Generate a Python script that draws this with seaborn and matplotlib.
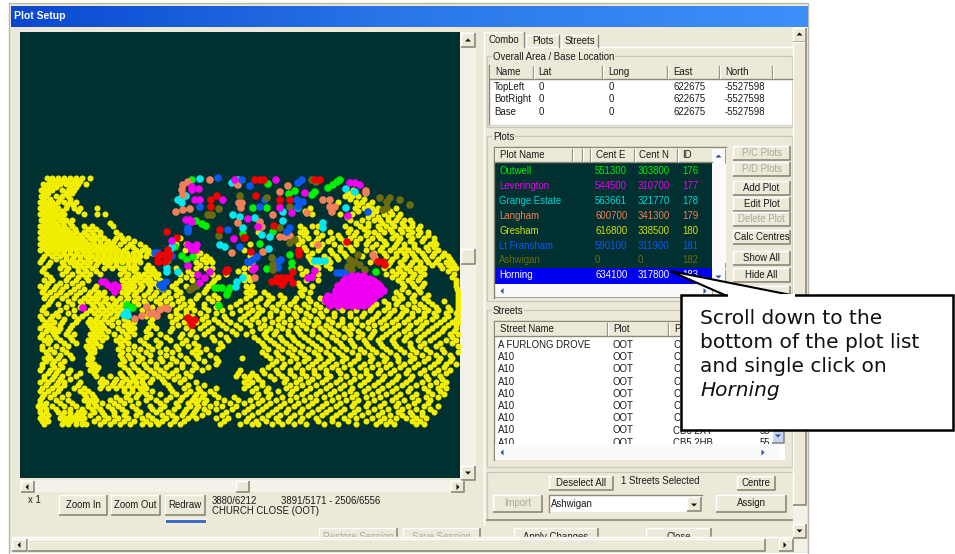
import numpy as np
import pandas as pd
import matplotlib
matplotlib.use("Agg")
import matplotlib.pyplot as plt
from matplotlib.patches import Rectangle, Polygon
import seaborn as sns

# ---------- map data: {y: [x, ...]} ----------
YELLOW = {
178:[47,52,58,64,70,76,82,90],
184:[43,48,54,60,66,72,78,86],
190:[41,46,52,62,68,74,353],
196:[41,46,56,62,68,345,352,358],
202:[40,46,52,58,64,70,76,338,356,362,372],
208:[40,46,52,58,66,74,80,97,310,355,364,372,378,396],
214:[40,46,52,58,64,84,97,105,312,340,352,372,384,392,400],
220:[41,47,53,60,66,72,350,362,374,380,388,396,404,410],
226:[40,46,52,58,64,72,84,92,113,300,312,318,345,360,368,378,386,394,404,412,420],
232:[40,46,52,58,64,70,76,84,92,100,116,258,300,306,316,330,348,356,368,374,384,392,402,412,420,428],
238:[40,46,52,58,64,70,76,82,90,96,104,116,122,128,180,298,308,318,332,340,350,360,372,380,392,400,412,424,434],
244:[40,46,52,58,64,70,76,82,88,94,100,106,112,120,130,140,176,186,250,298,312,322,334,346,356,366,376,386,396,404,414,430,436],
250:[40,46,52,58,64,70,76,82,88,94,100,106,112,118,124,136,142,148,185,196,244,306,318,330,340,352,366,380,390,400,408,418,428,438],
256:[44,52,60,66,74,80,86,92,98,104,110,116,122,128,134,140,146,196,206,250,308,324,336,346,362,386,396,406,414,424,432,442,448],
262:[40,50,62,70,76,84,90,98,104,110,116,122,128,134,140,196,206,212,252,312,320,330,370,390,400,412,420,428,436,446,452],
268:[44,60,68,78,84,92,104,112,120,124,130,136,146,152,176,196,206,212,244,250,300,318,330,384,398,406,416,424,442,452,456],
274:[46,62,72,82,90,100,120,128,138,144,152,158,180,192,212,226,244,302,318,386,396,404,414,424,454],
280:[44,52,66,76,88,122,130,136,144,150,160,180,192,214,244,250,306,318,398,408,418,456],
286:[40,46,56,66,78,96,122,128,134,142,150,158,172,186,208,246,252,300,312,404,414,422,456],
292:[42,50,60,70,80,90,98,104,122,128,136,148,156,168,180,204,246,254,264,300,310,396,408,420,458],
298:[44,52,62,74,84,92,98,106,112,120,128,138,150,160,170,182,196,208,218,246,260,272,284,296,308,320,394,402,412,424,458],
304:[48,58,72,82,92,100,108,114,122,138,146,160,172,184,192,204,218,236,250,266,278,290,304,316,336,376,388,396,408,420,432,458],
310:[42,60,74,90,98,106,114,122,142,176,186,194,208,222,240,252,262,276,288,300,314,326,342,356,370,384,394,406,418,428,438,450,458],
316:[40,52,58,74,82,98,106,116,146,170,180,192,206,224,244,256,270,282,296,310,322,334,350,362,376,388,400,412,424,436,448,458],
322:[46,54,62,76,88,94,100,108,118,128,134,150,172,184,196,208,218,230,246,258,272,284,298,308,318,332,342,356,368,380,392,404,416,426,440,452,458],
328:[40,48,54,60,70,92,98,104,118,128,134,148,156,172,186,200,212,226,240,260,270,282,296,306,320,330,344,352,368,382,394,408,420,432,444,456],
334:[42,54,66,74,90,96,102,114,126,134,150,160,182,190,204,220,236,246,264,274,288,300,312,326,338,350,362,372,386,398,410,424,438,450,458],
340:[44,50,60,72,88,94,102,116,124,140,156,170,186,214,228,258,270,282,294,308,322,336,350,364,378,392,404,418,430,446,456],
346:[42,56,68,86,92,100,122,134,148,158,176,188,198,222,264,278,290,302,316,328,342,354,368,382,396,410,420,436,458],
352:[46,54,66,90,94,122,134,146,160,172,192,200,262,276,288,300,314,326,338,352,364,376,390,404,416,430,444,458],
358:[44,50,58,72,88,92,122,130,142,160,172,186,198,216,242,270,282,296,308,320,332,346,358,372,386,398,414,428,440,452],
364:[42,52,60,88,94,120,132,144,156,170,182,194,216,272,284,298,312,324,336,350,364,378,390,404,418,434,446,456],
370:[40,50,58,70,90,96,128,138,150,160,176,192,202,240,262,276,290,302,314,326,338,352,366,380,394,408,424,438,450],
376:[44,54,62,76,96,110,122,132,138,146,158,168,178,190,236,244,250,256,270,282,294,306,318,330,346,360,370,384,398,412,426,440],
382:[40,48,58,64,80,100,106,114,122,130,136,142,150,164,180,196,244,252,262,284,296,308,322,336,350,364,378,392,406,422,436,446],
388:[42,52,60,74,84,100,108,116,124,132,140,146,170,184,198,216,244,256,268,286,296,310,326,340,352,368,382,396,410,424,438,446],
394:[44,54,68,84,92,128,138,146,160,176,186,196,204,214,258,270,290,302,316,330,344,356,372,386,400,416,432,444],
400:[40,56,68,84,90,96,110,120,130,146,156,166,180,192,198,206,224,238,250,262,276,290,304,316,332,346,358,374,392,404,418,430],
406:[38,44,52,64,76,88,96,108,118,132,150,164,178,190,198,210,222,236,252,266,280,294,308,322,336,352,366,380,396,408,424,438],
412:[40,46,58,64,70,78,84,94,102,114,126,140,156,168,184,194,208,226,244,258,272,286,300,312,326,340,354,368,382,398,410,422,434],
418:[40,46,60,66,72,78,84,98,108,118,128,142,152,166,176,188,196,216,228,248,262,276,290,302,316,332,344,356,372,384,396,406,416,426],
424:[44,62,68,76,82,86,100,110,120,130,142,150,158,170,180,220,240,252,258,272,282,294,306,324,338,356,376,386,394,416,424],
}
YELLOW_B = {
181:[50,56,62,68,74,80],
187:[44,50,56,70,76],
193:[44,48,66,72,348],
199:[43,50,60,70,350,364],
205:[43,49,55,67,73,358,368],
211:[43,49,55,62,78,305,358,368,376,390],
217:[44,50,56,62,347,368,378,388,398],
223:[44,50,56,63,70,110,356,368,382,392,402,412],
229:[43,49,55,61,67,75,88,96,304,350,364,380,390,400,408,418],
235:[43,49,55,61,67,73,80,87,94,100,120,304,322,338,354,366,378,396,408,418,428],
241:[43,49,55,61,67,73,79,85,93,100,108,114,124,134,302,316,328,344,356,368,384,398,410,422,434],
247:[43,49,55,61,67,73,79,85,91,97,103,109,115,127,133,145,190,304,320,340,350,372,382,394,404,414,426,434],
253:[48,56,63,70,77,84,90,97,103,109,115,121,127,133,139,147,152,200,312,332,344,374,384,396,404,412,422,434,444],
259:[42,56,66,72,80,88,95,102,108,114,120,126,132,138,202,210,310,328,338,392,404,416,426,438,450],
265:[48,64,74,80,88,96,108,116,128,134,148,200,316,326,388,402,410,420,432,440,448,454],
271:[42,66,78,86,96,124,134,148,154,188,238,306,392,400,410,420,448],
277:[50,68,78,86,126,134,140,148,156,186,218,248,312,392,402,412,420,452],
283:[48,60,72,82,126,132,140,148,154,176,212,298,402,412,424,456],
289:[44,54,62,74,84,94,126,132,140,150,162,176,206,250,304,402,418,457],
295:[46,56,66,76,88,96,102,126,134,144,154,164,176,198,214,250,268,280,302,400,414,428,458],
301:[50,68,80,88,96,104,116,126,134,144,156,166,178,190,212,240,256,268,282,294,310,324,384,398,414,428,444,458],
307:[44,66,80,94,102,110,118,128,152,168,180,190,204,216,230,246,258,272,284,296,308,320,338,372,388,402,414,424,436,448,458],
313:[46,56,68,86,94,102,110,118,148,176,186,200,216,232,248,258,270,282,294,306,320,334,350,364,378,390,402,412,424,434,446,456],
319:[42,50,64,78,90,96,104,112,124,152,176,188,202,214,226,240,252,264,278,290,304,316,328,342,356,372,384,396,408,420,432,444,456],
325:[44,50,60,72,90,96,102,112,124,130,152,178,190,204,222,236,250,264,278,290,302,314,326,338,350,362,374,386,398,410,422,436,448,456],
331:[46,52,58,68,94,100,108,122,130,146,170,192,208,232,252,266,276,288,298,312,324,334,348,358,374,390,404,416,428,442,454],
337:[40,48,56,70,92,98,106,120,128,146,166,180,196,212,226,254,266,280,292,304,318,332,344,358,370,382,394,406,420,434,452],
343:[48,64,76,90,96,120,128,144,160,182,194,220,262,274,286,298,312,326,340,352,366,380,394,410,424,440,452],
349:[42,50,62,88,94,118,128,140,152,166,178,196,206,218,268,282,294,308,320,334,346,360,372,386,400,412,426,442],
355:[48,60,70,90,120,128,138,150,166,180,196,210,266,278,292,304,318,330,342,358,370,382,396,410,422,436,450],
361:[46,54,64,90,124,138,150,162,176,188,204,218,276,290,304,316,328,342,354,370,384,398,410,424,438,450],
367:[42,54,62,92,98,124,134,146,156,166,182,196,208,268,282,296,308,320,332,344,360,372,386,400,414,430,444],
373:[48,56,68,80,94,120,130,142,154,164,172,186,238,252,264,278,290,302,314,326,340,354,366,378,390,406,420,434,446],
379:[44,52,60,70,102,116,126,134,142,152,162,174,184,248,258,274,286,300,312,326,340,354,368,382,396,410,428,442],
385:[46,56,64,78,102,112,120,128,136,144,168,188,204,248,262,290,302,316,330,344,360,374,388,402,416,430,442],
391:[40,48,58,80,88,124,132,142,152,172,190,200,210,252,266,278,292,306,320,334,350,364,378,392,408,428,440],
397:[42,50,62,86,94,116,126,136,150,170,182,194,202,218,234,256,268,282,296,310,324,338,352,366,380,396,412,426,438],
403:[40,46,60,72,88,94,102,114,124,138,160,176,188,196,204,216,230,244,258,270,284,298,312,326,340,354,368,384,398,414,428],
409:[40,46,56,70,82,92,100,112,122,136,152,160,174,186,196,204,216,232,248,262,276,288,302,318,330,344,358,374,388,402,416,430],
415:[42,48,62,70,76,82,90,104,114,124,136,148,162,172,182,192,202,222,238,252,268,280,294,308,322,336,350,362,378,390,402,412,422],
421:[42,48,64,70,76,82,94,104,114,124,134,146,156,162,174,184,224,246,256,266,278,288,300,318,332,348,366,380,390,412,420],
}
RED = {180:[255,260,264,315,320],196:[217,256],200:[211,280,290],207:[211,280],226:[274],230:[220],232:[167],238:[177,244,245],
       250:[168],251:[299],252:[251],255:[165,160,170,299],258:[158,168],262:[158,165,378,383],265:[385],270:[227,228],272:[226,293],
       242:[347],278:[282,277,287,290],282:[272,278,284],285:[282],283:[293],318:[188],320:[190,195],325:[192]}
MAGENTA = {180:[235,276],183:[350,355],185:[360],187:[192],189:[199],190:[192],193:[305],200:[195,200,223],208:[280],213:[292],
           216:[348],219:[248],220:[186,190],222:[192],227:[258],239:[234],241:[172],245:[188,197],247:[192],250:[192,196],
           266:[188],268:[255],270:[253],271:[315],272:[210],275:[198],277:[312],278:[205,308],283:[200],308:[83],
           282:[102,105],285:[108,115],287:[118],288:[112],292:[115],
           276:[352,358,364],279:[346,352,358,364,370],281:[344,350,356,362,368,374],284:[342,348,354,360,366,372,378],
           286:[338,344,350,356,362,368,374,380],289:[340,346,352,358,364,370,376,382],
           291:[336,342,348,354,360,366,372,378,384],294:[338,344,350,356,362,368,374,380],296:[328,334,340,346,352,358,364,370,376],
           299:[326,332,338,344,350,356,362,368,374],301:[326,332,340,346,352,358,364,370],304:[330,336,344,350,356,362,368],306:[330,338,346,352,358,364]}
GREEN = {180:[192,340],182:[337],184:[268],185:[333],188:[328],191:[295],192:[315],194:[289],195:[312],208:[253,267],
         221:[196],224:[202],226:[206],232:[273],234:[243],244:[260],247:[175],255:[290],256:[182],257:[193],260:[187],
         263:[292],268:[292],269:[267],272:[376],288:[215,218,222,230],292:[228],295:[227],305:[127],306:[219],307:[130],308:[133]}
CYAN = {179:[200],180:[238],183:[232],189:[346],192:[355],196:[186],198:[182],200:[178],203:[182],208:[346,298],212:[283],
        215:[233],217:[240],218:[255],221:[283],223:[323],228:[243,323],235:[262],237:[270],245:[220],247:[172,225],249:[269],
        250:[170],261:[319,325,315],268:[167],272:[167,178],278:[243],282:[237],287:[236],312:[127],315:[124],316:[128]}
ORANGE = {180:[210],182:[188],185:[183,238],186:[288],190:[182],191:[366],192:[280],193:[366],195:[183],200:[323,330],
          203:[239,242],207:[330,335],208:[241],209:[190],210:[183],212:[176,332],213:[307],215:[273],222:[260],223:[238],
          227:[262],236:[290],237:[285,280],245:[318],252:[263],253:[232],255:[373],258:[375],278:[255],307:[147],
          308:[165],309:[168],310:[160],313:[153],314:[150],316:[142,157],319:[135]}
BLUE = {178:[218],180:[242,302],183:[298],186:[250],200:[265,297],202:[303],207:[200,260,298],212:[368],228:[188,290],
        230:[188,228],232:[188,287],247:[240],253:[155,158],256:[172],257:[257],260:[253,281],262:[248,250,278],268:[278],
        273:[337,341,345],282:[166],284:[163],285:[160],288:[163]}
OLIVE = {180:[312],182:[316],196:[240],198:[267,380,390],200:[400],202:[387],205:[410],207:[290],208:[387],209:[219],210:[383],
         215:[208,212],228:[280],236:[219],240:[295],243:[290],255:[358],258:[272],260:[350],261:[168],262:[355],265:[273,352,360],
         267:[348],270:[273,352,365],286:[197],288:[193],290:[190]}
SERIES = [("yellow",YELLOW),("yellow",YELLOW_B),("green",GREEN),("cyan",CYAN),("orange",ORANGE),("blue",BLUE),("olive",OLIVE),("red",RED),("magenta",MAGENTA)]

# ---------- interface texts ----------
TITLE = "Plot Setup"
TABS = ["Combo","Plots","Streets"]
AREA_COLS = ["Name","Lat","Long","East","North"]
AREA_ROWS = [["TopLeft","0","0","622675","-5527598"],["BotRight","0","0","622675","-5527598"],["Base","0","0","622675","-5527598"]]
PLOT_COLS = ["Plot Name","Cent E","Cent N","ID"]
PLOT_ROWS = [["Outwell","551300","303800","176"],["Leverington","544500","310700","177"],
             ["Grange Estate","563661","321770","178"],["Langham","600700","341300","179"],
             ["Gresham","616800","338500","180"],["Lt Fransham","590100","311900","181"],
             ["Ashwigan","0","0","182"],["Horning","634100","317800","183"]]
STREET_COLS = ["Street Name","Plot","P"]
STREET_NAMES = ["A FURLONG DROVE"]+["A10"]*8
CALLOUT = ["Scroll down to the","bottom of the plot list","and single click on"]

C_PANEL="#ECE9D8"; C_MAP="#003030"; C_GREY="#ACA899"; C_DIS="#ACA899"
PALETTE={"yellow":"#F2EE00","green":"#00F000","cyan":"#00E8F0","orange":"#F0805A","blue":"#0A5AF0",
         "olive":"#6B6B10","red":"#F00000","magenta":"#F000F0"}
ROW_COL=["#00F000","#F000F0","#00D8D8","#F0805A","#D8E000","#0A5AF0","#6B6B10","#FFFFFF"]

plt.rcParams['font.family']=['Liberation Sans','DejaVu Sans']
FS=6.9
fig=plt.figure(figsize=(9.55,5.54),dpi=100,facecolor="white")
ui=fig.add_axes([0,0,1,1]); ui.set_xlim(0,955); ui.set_ylim(554,0); ui.axis("off")

def rect(x0,y0,x1,y1,fc=C_PANEL,ec="none",lw=0,z=1,ax=ui):
    ax.add_patch(Rectangle((x0,y0),x1-x0,y1-y0,fc=fc,ec=ec,lw=lw,zorder=z))
def txt(x,y,s,c="#1A1A1A",fs=FS,z=6,ha="left",**k):
    ui.text(x,y,s,color=c,fontsize=fs,va="center",ha=ha,zorder=z,**k)
def bevel(x0,y0,x1,y1,z=3,fc=C_PANEL):
    rect(x0,y0,x1,y1,fc=fc,z=z)
    ui.plot([x0,x0,x1],[y1,y0,y0],color="white",lw=1,zorder=z+.1,solid_capstyle="butt")
    ui.plot([x0,x1,x1],[y1,y1,y0],color="#8C8878",lw=1.2,zorder=z+.1,solid_capstyle="butt")
def button(x0,y0,x1,y1,s,dis=False,z=3):
    bevel(x0,y0,x1,y1,z=z)
    if s: txt((x0+x1)/2,(y0+y1)/2,s,c=C_DIS if dis else "#1A1A1A",ha="center",z=z+1)
def group(x0,y0,x1,y1,s):
    ui.plot([x0,x0,x1,x1,x0],[y0,y1,y1,y0,y0],color="#C9C7BA",lw=.9,zorder=2)
    ui.text(x0+6,y0+.5,s,color="#1A1A1A",fontsize=FS,va="center",zorder=3,
              bbox=dict(fc=C_PANEL,ec="none",pad=.6))
def arrow(cx,cy,d,c="#111111",r=3,z=6):
    P={"u":[(cx-r,cy+r/2),(cx+r,cy+r/2),(cx,cy-r/2)],"d":[(cx-r,cy-r/2),(cx+r,cy-r/2),(cx,cy+r/2)],
       "l":[(cx+r/2,cy-r),(cx+r/2,cy+r),(cx-r/2,cy)],"r":[(cx-r/2,cy-r),(cx-r/2,cy+r),(cx+r/2,cy)]}[d]
    ui.add_patch(Polygon(P,fc=c,ec="none",zorder=z))
def header(x0,y0,x1,y1,seps,cols):
    rect(x0,y0,x1,y1,z=4)
    ui.plot([x0,x1],[y1,y1],color="#8C8878",lw=1,zorder=4.5)
    for s in seps:
        ui.plot([s,s],[y0+1,y1-1],color="#8C8878",lw=.9,zorder=4.6)
        ui.plot([s+1,s+1],[y0+1,y1-1],color="white",lw=.9,zorder=4.6)
    for x,t in cols: txt(x,(y0+y1)/2,t,z=5)

# window
rect(9,3,808,553,z=0)
ui.plot([9,9,808,808],[553,3,3,553],color="#B8B8B0",lw=1,zorder=.5)
ui.imshow(np.linspace(0,1,256)[None,:],extent=(11,807,27,6),cmap=matplotlib.colors.LinearSegmentedColormap.from_list("t",["#0A48D0","#2A78E8","#3C90F8"]),aspect="auto",zorder=1)
ui.set_xlim(0,955); ui.set_ylim(554,0)
txt(14,16,TITLE,c="white",fs=7.5,fontweight="bold")

# map scroll bars
rect(460,32,476,480,fc="#F4F2E8",z=1); rect(20,480,465,492,fc="#F4F2E8",z=1)
bevel(461,33,475,47); arrow(468,40,"u")
bevel(461,249,475,264)
bevel(461,466,475,480); arrow(468,473,"d")
bevel(21,481,34,492); arrow(27,487,"l")
bevel(236,481,249,492)
bevel(451,481,464,492); arrow(458,487,"r")

# map lower controls
txt(28,500,"x 1")
button(59,495,107,515,"Zoom In"); button(111,495,160,515,"Zoom Out"); button(165,495,205,515,"Redraw")
rect(165,518,207,524,fc="#F4F2E8"); rect(166,520,206,523,fc="#3C6CC8",z=2)
txt(212,501,"3880/6212"); txt(281,501,"3891/5171 - 2506/6556"); txt(212,511,"CHURCH CLOSE (OOT)")

# tabs and page
ui.plot([484,484,792],[525,47,47],color="white",lw=1,zorder=1.5)
for (x0,x1,y0,t) in [(484,524,32,TABS[0]),(526,559,35,TABS[1]),(561,598,35,TABS[2])]:
    ui.plot([x0,x0,x1,x1],[47,y0,y0,47],color="white",lw=1,zorder=2)
    ui.plot([x1,x1],[y0,47],color="#8C8878",lw=1,zorder=2.1)
    txt((x0+x1)/2,(y0+47)/2+.5,t,ha="center")
rect(485,46,523,48,z=2.2)

# overall group
group(487,56,792,127,"Overall Area / Base Location")
rect(489,65,792,125,fc="white",z=3)
ui.plot([489,489],[65,125],color="#8C8878",lw=1,zorder=4)
ui.plot([489,792],[125,125],color="#D8D6C8",lw=1,zorder=4)
ax_x=[495,538,608,673,725]
header(490,65,792,79,[533,602,667,719,772],list(zip(ax_x,AREA_COLS)))
for y,r in zip([87,99,112],AREA_ROWS):
    for x,t in zip([494,539,609,673,725],r): txt(x,y,t)

# plots group
group(487,136,792,301,"Plots")
rect(494,147,726,298,fc="white",z=3)
ui.plot([494,494,726],[298,147,147],color="#8C8878",lw=1,zorder=4)
rect(495,162,712,284,fc=C_MAP,z=3.2)
rect(495,268,712,284,fc="#0000F0",z=3.3)
header(495,148,712,162,[572,582,590,634,677],list(zip([500,596,639,682],PLOT_COLS)))
rect(712,148,725,284,fc="#FAFAFA",z=3.2)
bevel(712,149,725,163,fc="#C4D4F4"); arrow(718.5,156,"u",c="#304C90")
bevel(712,263,725,268,fc="#C4D4F4"); bevel(712,270,725,284,fc="#C4D4F4"); arrow(718.5,277,"d",c="#304C90")
rect(495,284,712,297,fc="#FAFAFA",z=3.2)
bevel(495,285,509,297,fc="#C4D4F4"); arrow(502,291,"l",c="#304C90")
bevel(510,285,688,297,fc="#C4D4F4"); bevel(698,285,712,297,fc="#C4D4F4"); arrow(705,291,"r",c="#304C90")
for y,r,c in zip([171,186,201,216,231,246,260,275],PLOT_ROWS,ROW_COL):
    for x,t in zip([499,595,638,682],r): txt(x,y,t,c=c,z=5)
for y0,y1,s,dis in [(146,160,"P/C Plots",1),(162,176,"P/D Plots",1),(181,195,"Add Plot",0),(197,211,"Edit Plot",0),
                    (212,226,"Delete Plot",1),(230,244,"Calc Centres",0),(251,265,"Show All",0),(268,282,"Hide All",0),(286,296,"",0)]:
    button(733,y0,790,y1,s,dis=bool(dis))

# streets group
group(487,310,792,467,"Streets")
rect(494,321,785,460,fc="white",z=3)
ui.plot([494,494,785],[460,321,321],color="#8C8878",lw=1,zorder=4)
header(495,322,785,336,[607,668],list(zip([500,613,674],STREET_COLS)))
for i,(y,s) in enumerate(zip([345,357,369,382,394,406,418,430,443],STREET_NAMES)):
    txt(498,y,s,z=3.5); txt(612,y,"OOT",z=3.5)
    if i<7: txt(673,y,"C",z=3.5)
for y,s in zip([431,443],["CB6 2XY","CB5 2HB"]):
    txt(673,y,s,z=3.5)
    txt(760,y,"55",z=3.5)
rect(495,444,780,460,fc="#FAFAFA",z=4)
bevel(495,446,509,459,fc="#C4D4F4"); arrow(502,452.5,"l",c="#304C90")
bevel(510,446,674,459,fc="#C4D4F4"); bevel(756,446,770,459,fc="#C4D4F4"); arrow(763,452.5,"r",c="#304C90")
bevel(772,429,784,443,fc="#C4D4F4",z=4.2); arrow(778,436,"d",c="#304C90")

# bottom of page
ui.plot([487,487,792],[520,472,472],color="#C9C7BA",lw=.9,zorder=2)
ui.plot([487,792],[520,520],color="#8C8878",lw=1.2,zorder=2)
button(549,476,613,490,"Deselect All"); txt(621,481,"1 Streets Selected"); button(737,476,775,490,"Centre")
button(493,495,542,512,"Import",dis=True)
rect(549,495,702,512,fc="white",z=3)
ui.plot([549,549,702],[512,495,495],color="#8C8878",lw=1,zorder=4)
txt(551,504,"Ashwigan"); bevel(687,497,701,511); arrow(694,505,"d")
button(716,495,786,512,"Assign")
for x0,x1,s,d in [(319,397,"Restore Session",1),(403,480,"Save Session",1),(514,598,"Apply Changes",0),(646,711,"Close",0)]:
    bevel(x0,528,x1,545,z=1.5)
    txt((x0+x1)/2,537,s,c=C_DIS if d else "#1A1A1A",ha="center",z=1.6)

# outer scroll bars
rect(11,537,793,552,z=2)
ui.plot([11,793],[537,537],color="white",lw=1,zorder=2.1)
rect(793,27,807,552,fc="#F4F2E8",z=2)
bevel(793,28,806,42); arrow(799.5,34,"u")
bevel(793,42,806,505)
bevel(793,524,806,538); arrow(799.5,531,"d")
bevel(12,539,27,551); arrow(19,545,"l")
bevel(28,539,765,551)
bevel(779,539,793,551); arrow(785,545,"r")

# callout
ui.add_patch(Polygon([(670,271),(727,296),(796,296)],fc="white",ec="black",lw=1.5,zorder=8,joinstyle="miter"))
rect(681,295,953,430,fc="white",ec="black",lw=1.8,z=8)
rect(728,294,795,297,fc="white",z=8.5)
for y,s in zip([319,343,367],CALLOUT):
    ui.text(700,y,s,fontsize=14.5,family="DejaVu Sans",color="#111111",va="center",zorder=9)
ui.text(700,391,"Horning",fontsize=14.5,family="DejaVu Sans",style="italic",color="#111111",va="center",zorder=9)

# map drawn through seaborn
frames=[]
for name,rows in SERIES:
    for y,xs in rows.items():
        frames.extend((x,y,name) for x in xs)
df=pd.DataFrame(frames,columns=["east","north","plot"])
ax=fig.add_axes([20/955,1-478/554,440/955,446/554],facecolor=C_MAP)
sns.scatterplot(data=df[df["plot"]=="yellow"],x="east",y="north",color=PALETTE["yellow"],s=19,linewidth=0,marker="o",legend=False,ax=ax)
sns.scatterplot(data=df[df["plot"]!="yellow"],x="east",y="north",hue="plot",palette=PALETTE,s=30,linewidth=0,marker="o",legend=False,ax=ax)
ax.set_xlim(20,460); ax.set_ylim(478,32)
ax.set_xticks([]); ax.set_yticks([]); ax.set_xlabel(""); ax.set_ylabel("")
for s in ax.spines.values(): s.set_visible(False)
ui.set_zorder(1); ax.set_zorder(2)
fig.savefig("out.png",dpi=100)
